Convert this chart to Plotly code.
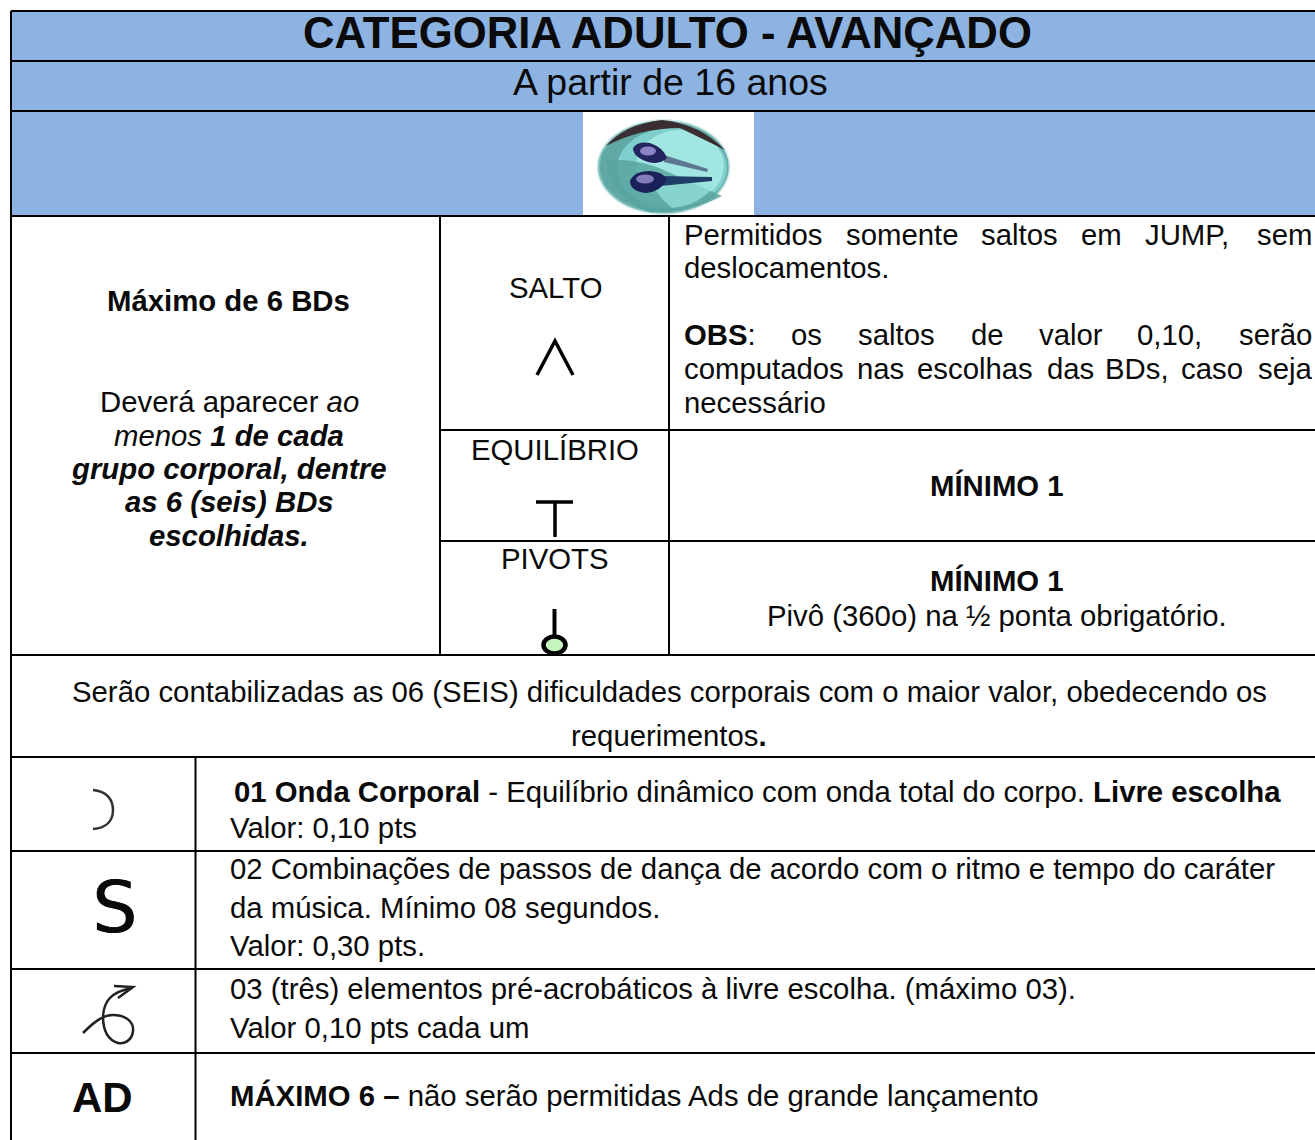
import plotly.graph_objects as go

# ---------- text content ----------
TITLE = "CATEGORIA ADULTO - AVANÇADO"
SUBTITLE = "A partir de 16 anos"
LEFT_HEAD = "Máximo de 6 BDs"
LEFT_LINES = ["Deverá aparecer <i>ao</i>", "<i>menos</i> <b><i>1 de cada</i></b>",
              "<b><i>grupo corporal, dentre</i></b>", "<b><i>as 6 (seis) BDs</i></b>", "<b><i>escolhidas.</i></b>"]
GROUPS = ["SALTO", "EQUILÍBRIO", "PIVOTS"]
SALTO_LINE1 = ["Permitidos", "somente", "saltos", "em", "JUMP,", "sem"]
SALTO_LINE2 = "deslocamentos."
SALTO_LINE3 = ["<b>OBS</b>:", "os", "saltos", "de", "valor", "0,10,", "serão"]
SALTO_LINE4 = ["computados", "nas", "escolhas", "das", "BDs,", "caso", "seja"]
SALTO_LINE5 = "necessário"
MINIMO = "<b>MÍNIMO 1</b>"
PIVO_NOTE = "Pivô (360o) na ½ ponta obrigatório."
RULE_LINES = ["Serão contabilizadas as 06 (SEIS) dificuldades corporais com o maior valor, obedecendo os",
              "requerimentos<b>.</b>"]
ROW1 = ["<b>01 Onda Corporal</b> - Equilíbrio dinâmico com onda total do corpo. <b>Livre escolha</b>", "Valor: 0,10 pts"]
ROW2 = ["02 Combinações de passos de dança de acordo com o ritmo e tempo do caráter",
        "da música. Mínimo 08 segundos.", "Valor: 0,30 pts."]
ROW3 = ["03 (três) elementos pré-acrobáticos à livre escolha. (máximo 03).", "Valor 0,10 pts cada um"]
ROW4 = "<b>MÁXIMO 6 –</b> não serão permitidas Ads de grande lançamento"

FONT = "Liberation Sans"
BLUE = "#8DB3E2"
INK = "#0a0a0a"
BODY = 29.33
W, H = 1315, 1140
annotations, shapes = [], []

def txt(x, y, s, size=BODY, anchor="left", color=INK, font=FONT, shadow=None):
    f = dict(family=font, size=size, color=color)
    if shadow:
        f["shadow"] = shadow
    annotations.append(dict(x=x, y=y - 1, text=s, xref="x", yref="y", showarrow=False, xanchor=anchor,
                            yanchor="middle", borderpad=0, borderwidth=0, font=f))

def rect(x0, y0, x1, y1, fill):
    shapes.append(dict(type="rect", x0=x0, y0=y0, x1=x1, y1=y1, fillcolor=fill, line=dict(width=0), layer="below"))

def line(x0, y0, x1, y1, w=2, color="#000000"):
    shapes.append(dict(type="line", x0=x0, y0=y0, x1=x1, y1=y1, line=dict(color=color, width=w)))

def path(d, w=2, color="#000000", fill=None):
    shapes.append(dict(type="path", path=d, line=dict(color=color, width=w), fillcolor=fill or "rgba(0,0,0,0)"))

def oval(cx, cy, rx, ry, fill, lw=0, lc="#000000"):
    shapes.append(dict(type="circle", x0=cx-rx, x1=cx+rx, y0=cy-ry, y1=cy+ry, fillcolor=fill, line=dict(width=lw, color=lc)))

# ---------- backgrounds ----------
rect(11, 11, W, 216, BLUE)
rect(583, 111, 754, 216, "#ffffff")

# ---------- logo ----------
oval(663.5, 167, 67, 48, "#d4ecea")
oval(663.5, 167, 65.5, 46.5, "#7fbcb8")
oval(664, 167, 64, 45, "#5fa8a6")
oval(672, 168, 55, 40, "#7fd0cc")
oval(680, 166, 44, 36, "#a2e6e2")
path("M 606 160 Q 640 158 668 172 L 722 196 Q 690 213 650 212 Q 612 200 606 160 Z", w=0, fill="rgba(88,165,160,0.85)")
path("M 650 176 Q 690 176 714 186 Q 700 205 672 208 Q 655 195 650 176 Z", w=0, fill="rgba(150,228,220,0.7)")
path("M 606 146 Q 625 124 662 120 Q 700 124 725 150 Q 705 140 680 128 Q 640 128 606 146 Z", w=0, fill="#3a2e32")
path("M 664 155 L 708 169 L 707 172 L 664 162 Z", w=0, fill="#5c7890")
path("M 660 176 L 712 177 L 712 181 L 660 186 Z", w=0, fill="#1f3d66")
path("M 633 148 Q 638 141 650 143 Q 664 148 667 158 Q 660 165 648 162 Q 633 157 633 148 Z", w=0, fill="#22255e")
path("M 630 181 Q 634 171 650 171 Q 664 172 667 180 Q 660 192 646 193 Q 630 191 630 181 Z", w=0, fill="#1a2058")
oval(648, 151, 8, 4.5, "#8c84c4")
oval(645, 179, 9, 4.5, "#837bbc")

# ---------- grid ----------
for y in [61, 111, 216, 655, 757, 851, 969, 1053]:
    line(11, y, W, y)
line(11, 11, W, 11)
line(11, 11, 11, H)
line(440, 216, 440, 655)
line(669, 216, 669, 655)
line(440, 430, W, 430)
line(440, 541, W, 541)
line(195.5, 757, 195.5, H)

# ---------- header ----------
txt(667.5, 33.5, f"<b>{TITLE}</b>", size=43.7, anchor="center")
txt(670, 83, SUBTITLE, size=37.5, anchor="center")

# ---------- left block ----------
txt(228, 301, f"<b>{LEFT_HEAD}</b>", anchor="center")
for y, s in zip([402, 436, 469, 502, 536], LEFT_LINES):
    txt(229, y, s, anchor="center")

# ---------- group names and symbols ----------
for y, s in zip([288, 450, 559], GROUPS):
    txt(555, y, s, anchor="center")
path("M 537 375 L 555 341 L 573 375", w=3.5)
line(536, 502, 573, 502, w=3.5)
line(555, 502, 555, 537, w=3.5)
line(554.5, 609, 554.5, 636, w=4)
oval(554.5, 645, 11, 8.5, "#c6f5c0", lw=4.5)

# ---------- right block ----------
for x, s in zip([684, 846, 981, 1081, 1145, 1257], SALTO_LINE1):
    txt(x, 235, s)
txt(684, 268, SALTO_LINE2)
for x, s in zip([684, 791, 858, 971, 1039, 1137, 1239], SALTO_LINE3):
    txt(x, 335, s)
for x, s in zip([684, 857, 917, 1047, 1105, 1181, 1258], SALTO_LINE4):
    txt(x, 369, s)
txt(684, 403, SALTO_LINE5)
txt(997, 486.5, MINIMO, anchor="center")
txt(997, 581.5, MINIMO, anchor="center")
txt(997, 616, PIVO_NOTE, anchor="center")

# ---------- rule ----------
for y, s in zip([692, 736], RULE_LINES):
    txt(669, y, s, anchor="center")

# ---------- lower rows ----------
txt(234, 792, ROW1[0])
txt(230, 828, ROW1[1])
for y, s in zip([869, 908, 946], ROW2):
    txt(230, y, s)
for y, s in zip([989, 1028], ROW3):
    txt(230, y, s)
txt(230, 1096, ROW4)

path("M 93 790 C 107 791 113 800 113 810 C 113 820 107 828 93 829", w=2.5, color="#333333")
txt(114, 908, "S", size=71, anchor="center", font="DejaVu Sans", shadow="0.7px 0 0 #000")
path("M 83 1033 C 92 1024 102 1015 113 1015 C 126 1015 134 1022 133 1031 C 132 1041 124 1044 118 1043 "
     "C 108 1040 103 1030 103 1016 C 104 1002 110 992 132 988", w=2.5, color="#222222")
path("M 114 986 L 133 987 L 118 998", w=2.5, color="#222222")
txt(102.5, 1098, "<b>AD</b>", size=42, anchor="center")

fig = go.Figure()
fig.update_layout(width=W, height=H, margin=dict(l=0, r=0, t=0, b=0), plot_bgcolor="#ffffff", paper_bgcolor="#ffffff",
                  showlegend=False, annotations=annotations, shapes=shapes,
                  xaxis=dict(range=[0, W], visible=False, fixedrange=True),
                  yaxis=dict(range=[H, 0], visible=False, fixedrange=True))
fig.write_html("out.html", config={"displayModeBar": False},
               post_script="document.body.style.margin='0';document.documentElement.style.overflow='hidden';")
